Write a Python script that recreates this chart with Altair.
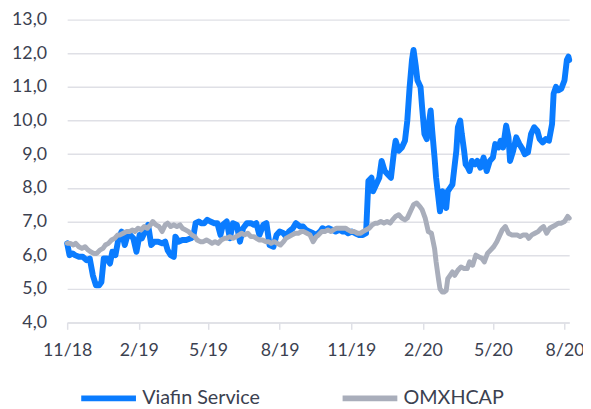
import altair as alt
import pandas as pd

series_names = ["Viafin Service", "OMXHCAP"]
series_colors = ["#0a7cff", "#a9aebb"]
start_date = "2018-11-01"

# day offsets from 1 Nov 2018
viafin_days = [
    0, 3, 7, 10, 15, 20, 25, 29, 33, 37,
    41, 44, 47, 51, 55, 58, 62, 66, 70, 74,
    77, 81, 85, 89, 93, 96, 100, 104, 108, 112,
    117, 122, 126, 129, 133, 137, 139, 143, 148, 153,
    159, 162, 165, 169, 172, 176, 180, 184, 189, 193,
    197, 200, 205, 209, 213, 218, 222, 226, 231, 236,
    240, 243, 247, 252, 256, 260, 265, 269, 273, 278,
    281, 285, 290, 294, 299, 303, 307, 311, 316, 320,
    325, 328, 332, 336, 341, 345, 350, 354, 358, 361,
    366, 370, 375, 380, 384, 387, 391, 393, 397, 401,
    404, 408, 412, 416, 420, 422, 426, 430, 434, 437,
    440, 443, 445, 448, 450, 454, 456, 459, 462, 464,
    467, 469, 472, 474, 477, 479, 482, 484, 487, 489,
    492, 495, 497, 500, 502, 505, 507, 510, 512, 515,
    517, 520, 524, 527, 531, 535, 539, 543, 547, 550,
    554, 557, 560, 564, 567, 569, 573, 577, 581, 585,
    588, 592, 596, 600, 604, 607, 611, 615, 619, 623,
    625, 628, 631, 635, 639, 642, 644, 645,
]
viafin_values = [
    6.35, 6.0, 6.05, 6.0, 5.95, 5.95, 5.85, 5.9, 5.4, 5.1,
    5.1, 5.2, 5.9, 5.9, 5.75, 6.1, 6.0, 6.5, 6.7, 6.3,
    6.55, 6.6, 6.5, 6.1, 6.6, 6.5, 6.7, 6.9, 6.3, 6.4,
    6.4, 6.35, 6.4, 6.15, 6.0, 5.95, 6.55, 6.4, 6.45, 6.45,
    6.5, 6.55, 6.95, 7.0, 6.95, 6.95, 7.05, 7.0, 6.95, 6.95,
    6.6, 6.9, 7.0, 6.5, 6.95, 6.9, 6.4, 6.8, 6.95, 6.95,
    6.9, 6.95, 6.6, 6.9, 6.95, 6.3, 6.25, 6.6, 6.7, 6.65,
    6.55, 6.7, 6.8, 6.95, 6.85, 6.85, 6.75, 6.7, 6.65, 6.6,
    6.7, 6.8, 6.75, 6.8, 6.75, 6.7, 6.75, 6.7, 6.7, 6.65,
    6.7, 6.65, 6.6, 6.6, 6.65, 8.2, 8.3, 7.9, 8.1, 8.3,
    8.8, 8.5, 8.4, 8.3, 9.1, 9.4, 9.1, 9.2, 9.4, 10.0,
    11.0, 11.8, 12.1, 11.6, 11.2, 11.0, 10.4, 9.6, 9.45, 9.8,
    10.3, 9.7, 8.9, 8.3, 7.7, 7.3, 7.9, 7.6, 7.4, 7.9,
    8.0, 8.1, 8.5, 9.1, 9.8, 10.0, 9.6, 9.1, 8.7, 8.6,
    8.5, 8.8, 8.7, 8.8, 8.6, 8.9, 8.5, 8.8, 8.9, 9.3,
    9.2, 9.4, 9.2, 9.85, 9.5, 8.8, 9.1, 9.5, 9.3, 9.15,
    9.0, 9.05, 9.6, 9.8, 9.7, 9.45, 9.35, 9.45, 9.4, 9.9,
    10.8, 11.0, 10.9, 10.95, 11.2, 11.8, 11.9, 11.8,
]

omx_days = [
    0, 4, 8, 11, 15, 19, 23, 27, 30, 34,
    38, 42, 46, 49, 53, 57, 61, 65, 68, 72,
    76, 80, 84, 87, 91, 95, 99, 103, 107, 110,
    114, 118, 122, 126, 129, 133, 137, 141, 145, 148,
    152, 156, 160, 164, 167, 171, 175, 179, 183, 186,
    190, 194, 198, 202, 205, 209, 213, 217, 221, 224,
    228, 232, 236, 240, 243, 247, 251, 255, 259, 262,
    266, 270, 274, 278, 281, 285, 289, 293, 297, 301,
    304, 308, 312, 316, 320, 323, 327, 331, 335, 339,
    342, 346, 350, 354, 358, 361, 365, 369, 373, 377,
    380, 384, 388, 392, 396, 399, 403, 407, 411, 415,
    418, 422, 426, 430, 434, 437, 441, 445, 449, 453,
    456, 460, 464, 468, 472,
    474, 477, 479, 482, 484, 487, 489, 492, 495, 498,
    502, 506, 510, 514, 517, 521, 525, 529, 533, 536,
    540, 544, 548, 552, 555, 559, 563, 567, 571, 574,
    578, 582, 586, 590, 593, 597, 601, 605, 609, 612,
    616, 620, 624, 628, 631, 635, 639, 643, 645,
]
omx_values = [
    6.35, 6.35, 6.3, 6.35, 6.25, 6.2, 6.25, 6.15, 6.1, 6.05,
    6.05, 6.15, 6.2, 6.3, 6.35, 6.45, 6.5, 6.6, 6.6, 6.65,
    6.7, 6.7, 6.75, 6.7, 6.8, 6.75, 6.85, 6.8, 6.9, 7.0,
    6.9, 6.85, 6.7, 6.9, 6.95, 6.85, 6.9, 6.85, 6.9, 6.8,
    6.75, 6.7, 6.6, 6.55, 6.45, 6.4, 6.4, 6.45, 6.4, 6.35,
    6.4, 6.35, 6.45, 6.5, 6.5, 6.55, 6.5, 6.55, 6.6, 6.65,
    6.6, 6.65, 6.55, 6.55, 6.5, 6.45, 6.45, 6.4, 6.4, 6.35,
    6.4, 6.35, 6.3, 6.4, 6.5, 6.55, 6.6, 6.65, 6.65, 6.7,
    6.7, 6.65, 6.6, 6.4, 6.55, 6.6, 6.7, 6.7, 6.75, 6.7,
    6.75, 6.8, 6.8, 6.8, 6.8, 6.75, 6.7, 6.7, 6.65, 6.65,
    6.7, 6.75, 6.8, 6.9, 6.95, 6.95, 7.0, 6.95, 7.0, 6.95,
    7.05, 7.15, 7.2, 7.1, 7.05, 7.1, 7.3, 7.5, 7.55, 7.45,
    7.35, 7.1, 6.7, 6.65, 6.2,
    5.8, 5.3, 5.0, 4.9, 4.9, 4.95, 5.3, 5.4, 5.5, 5.4,
    5.55, 5.65, 5.6, 5.6, 5.8, 5.7, 6.0, 5.95, 5.9, 5.8,
    6.05, 6.15, 6.25, 6.4, 6.55, 6.75, 6.85, 6.65, 6.6, 6.6,
    6.6, 6.55, 6.6, 6.6, 6.5, 6.6, 6.65, 6.7, 6.8, 6.85,
    6.65, 6.8, 6.85, 6.9, 6.95, 6.95, 7.0, 7.15, 7.1,
]

y_ticks = [4, 5, 6, 7, 8, 9, 10, 11, 12, 13]
x_tick_dates = [(2018, 11), (2019, 2), (2019, 5), (2019, 8), (2019, 11),
                (2020, 2), (2020, 5), (2020, 8)]

start = pd.Timestamp(start_date)


def frame(days, vals, name):
    return pd.DataFrame({
        "date": start + pd.to_timedelta(days, unit="D"),
        "value": vals,
        "series": name,
    })


df_v = frame(viafin_days, viafin_values, series_names[0])
df_o = frame(omx_days, omx_values, series_names[1])

FONT = "Lato"
TEXT = "#3b4150"
GRID = "#dfe0e6"

x_enc = alt.X(
    "date:T",
    title=None,
    scale=alt.Scale(domain=[alt.DateTime(year=2018, month=11, date=1),
                            alt.DateTime(year=2020, month=8, date=7)]),
    axis=alt.Axis(
        values=[alt.DateTime(year=y, month=m, date=1) for y, m in x_tick_dates],
        labelExpr="timeFormat(datum.value, '%-m/%y')",
        grid=False, domainColor=GRID, domainWidth=1.5,
        tickColor=GRID, tickWidth=1.5, tickSize=7,
        labelPadding=13, labelFontSize=18, labelColor=TEXT, labelFont=FONT,
        labelOverlap=False, labelFlush=False, labelBound=False,
    ),
)
y_enc = alt.Y(
    "value:Q",
    title=None,
    scale=alt.Scale(domain=[4, 13], nice=False, zero=False),
    axis=alt.Axis(
        values=y_ticks,
        labelExpr="replace(format(datum.value, '.1f'), '.', ',')",
        domain=False, ticks=False, gridColor=GRID, gridWidth=1.5,
        labelPadding=21, labelFontSize=18, labelColor=TEXT, labelFont=FONT,
    ),
)
color_enc = alt.Color(
    "series:N",
    scale=alt.Scale(domain=series_names, range=series_colors),
    legend=alt.Legend(
        title=None, orient="none", direction="horizontal",
        legendX=11, legendY=353,
        symbolType="stroke", symbolSize=3080, symbolStrokeWidth=6,
        labelFontSize=20, labelColor=TEXT, labelFont=FONT,
        labelOffset=3, columnPadding=71,
    ),
)

blue = alt.Chart(df_v).mark_line(strokeWidth=6, strokeJoin="round", strokeCap="round").encode(
    x=x_enc, y=y_enc, color=color_enc)
grey = alt.Chart(df_o).mark_line(strokeWidth=5, strokeJoin="round", strokeCap="round").encode(
    x=x_enc, y=y_enc, color=color_enc)

chart = alt.layer(blue, grey).properties(
    width=509, height=307,
    autosize=alt.AutoSizeParams(type="none"),
    padding={"left": 60, "top": 9, "right": 14, "bottom": 85},
).configure_view(stroke=None)

chart.save("out.html", embed_options={"renderer": "svg", "actions": False})
